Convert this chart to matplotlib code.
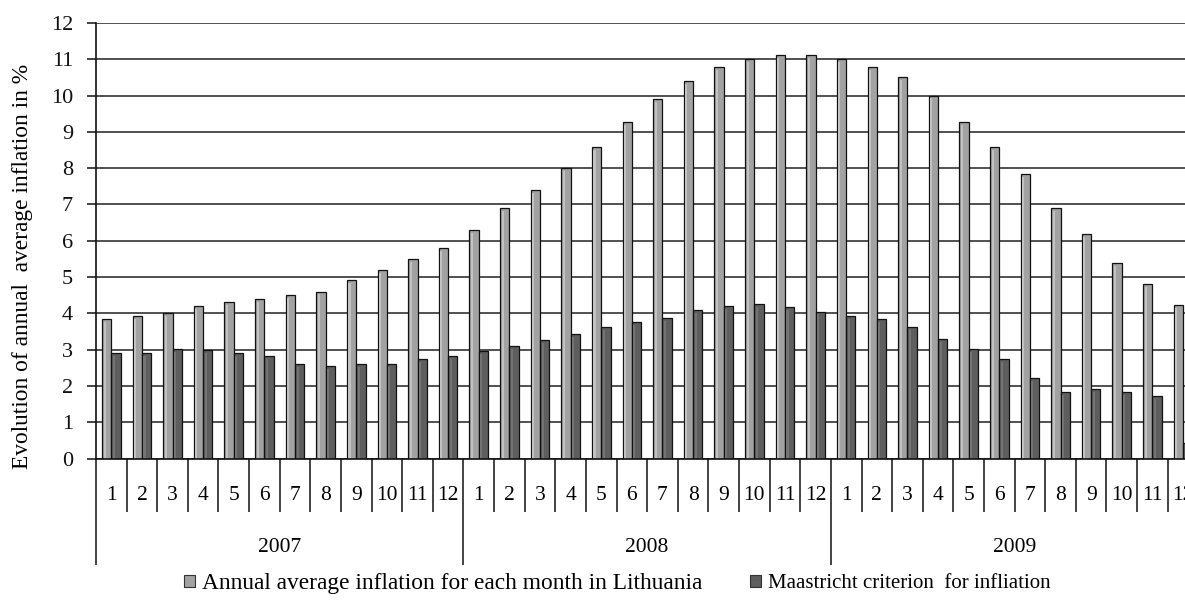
import matplotlib
matplotlib.use("Agg")
import matplotlib.pyplot as plt
import matplotlib.transforms as mtransforms
from matplotlib.patches import Patch
import numpy as np

# Category levels: years and months
years = ["2007", "2008", "2009"]
months = [str(m) for m in range(1, 13)]

# Annual average inflation for each month in Lithuania, %
lithuania = [3.84, 3.92, 4.0, 4.21, 4.32, 4.39, 4.51, 4.6, 4.92, 5.19, 5.49, 5.81,
             6.3, 6.9, 7.4, 8.01, 8.58, 9.26, 9.9, 10.39, 10.78, 11.0, 11.12, 11.12,
             11.0, 10.79, 10.5, 10.0, 9.27, 8.58, 7.83, 6.91, 6.18, 5.39, 4.8, 4.22]

# Maastricht criterion for inflation, %
maastricht = [2.91, 2.91, 3.01, 3.0, 2.9, 2.82, 2.61, 2.55, 2.61, 2.61, 2.74, 2.82,
              2.95, 3.11, 3.26, 3.44, 3.63, 3.76, 3.88, 4.08, 4.21, 4.26, 4.17, 4.05,
              3.92, 3.84, 3.63, 3.3, 3.02, 2.74, 2.21, 1.84, 1.92, 1.84, 1.72, 0.42]

series_labels = ["Annual average inflation for each month in Lithuania",
                 "Maastricht criterion  for infliation"]
y_title = "Evolution of annual  average inflation in %"

plt.rcParams["font.family"] = ["Liberation Serif", "DejaVu Serif"]

W, H = 1185, 610
fig = plt.figure(figsize=(W / 100, H / 100), dpi=100)
cat_w = 30.62
ax = fig.add_axes([96 / W, (H - 458.5) / H, 36 * cat_w / W, 435.5 / H])

n = len(lithuania)
x = np.arange(n)
bw = 0.304
light, dark = "#a2a2a2", "#5e5e5e"
light_hi, dark_hi = "#c2c2c2", "#747474"
edge = "#111111"

# Bars with a thin bevel highlight along the left side
ax.bar(x - bw / 2, lithuania, bw, color=light, edgecolor=edge, linewidth=0.9, zorder=3)
ax.bar(x + bw / 2, maastricht, bw, color=dark, edgecolor=edge, linewidth=0.9, zorder=3)
hw = bw * 0.22
ax.bar(x - bw + 0.05 + hw / 2, np.array(lithuania) - 0.08, hw, color=light_hi,
       linewidth=0, zorder=4)
ax.bar(x + 0.05 + hw / 2, np.array(maastricht) - 0.08, hw, color=dark_hi,
       linewidth=0, zorder=4)

ax.set_xlim(-0.5, n - 0.5)
ax.set_ylim(0, 12)
ax.set_yticks(range(13))
ax.yaxis.grid(True, color="#222222", linewidth=1.1)
ax.set_axisbelow(True)
for s in ("top", "right"):
    ax.spines[s].set_visible(False)
for s in ("left", "bottom"):
    ax.spines[s].set_color(edge)
    ax.spines[s].set_linewidth(1.2)
ax.spines["bottom"].set_zorder(5)
ax.tick_params(axis="y", direction="out", length=6.5, width=1.1, pad=10, labelsize=16,
               colors=edge)
ax.tick_params(axis="x", bottom=False, labelbottom=False)

ax.set_ylabel(y_title, fontsize=16.8)
ax.yaxis.set_label_coords(-0.057, 0.44)

# Two-level category axis: month cells and year groups
trans = mtransforms.blended_transform_factory(ax.transData, ax.transAxes)
px = 435.5
month_depth = 53.5 / px
year_depth = 106.5 / px
for b in range(n + 1):
    pos = b - 0.5
    depth = year_depth if b % 12 == 0 else month_depth
    ax.plot([pos, pos], [0, -depth], transform=trans, color=edge,
            linewidth=1.1, clip_on=False, solid_capstyle="butt")
for i in range(n):
    ax.text(i, -36.5 / px, months[i % 12], transform=trans, ha="center",
            va="center", fontsize=15.5)
for k, yr in enumerate(years):
    ax.text(12 * k + 5.5, -89 / px, yr, transform=trans, ha="center",
            va="center", fontsize=15.5)

handles = [Patch(facecolor=light, edgecolor="#333333", linewidth=0.8),
           Patch(facecolor=dark, edgecolor="#333333", linewidth=0.8)]
leg = fig.legend(handles, series_labels, loc="center", bbox_to_anchor=(617 / W, 1 - 583 / H),
                 ncol=2, frameon=False, fontsize=15, handlelength=0.55, handleheight=0.55,
                 handletextpad=0.3, columnspacing=2.3)
leg.get_texts()[0].set_fontsize(16.8)

fig.savefig("out.png", dpi=100)
